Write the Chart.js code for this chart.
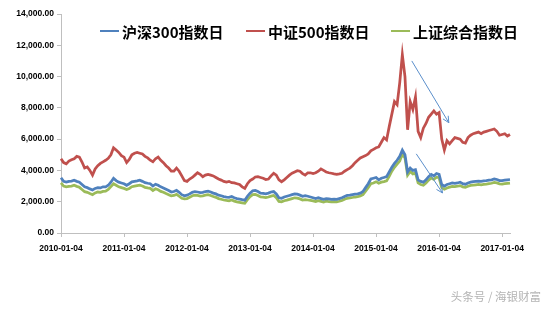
<!DOCTYPE html>
<html>
<head>
<meta charset="utf-8">
<script src="https://cdn.jsdelivr.net/npm/chart.js@4.4.1/dist/chart.umd.min.js"></script>
<style>
    body { margin: 0; background: #fff; }
    #wrap { position: relative; width: 550px; height: 310px; }
    #mark {
        position: absolute; right: 9px; top: 288px;
        font: 11.5px "Noto Sans CJK SC", sans-serif; color: #b4b4b4;
    }
</style>
</head>
<body>
<div id="wrap">
    <canvas id="chart" width="550" height="310"></canvas>
    <div id="mark">头条号 / 海银财富</div>
</div>
<script>
// series names as in the legend
const seriesNames = ['沪深300指数日', '中证500指数日', '上证综合指数日'];

// year labels shown on the x axis
const yearTicks = ['2010-01-04', '2011-01-04', '2012-01-04', '2013-01-04',
    '2014-01-04', '2015-01-04', '2016-01-04', '2017-01-04'];

const csi300 = [
    3530, 3300, 3250, 3300, 3320, 3370, 3300, 3250, 3100, 2950, 2900, 2820, 2750, 2850, 2900, 2880, 2950, 2950, 3050, 3250, 3500, 3350, 3250, 3200,
    3150, 3050, 3150, 3270, 3300, 3330, 3370, 3300, 3220, 3180, 3150, 3000, 3120, 3050, 2950, 2880, 2800, 2720, 2620, 2650, 2730, 2600, 2450, 2380,
    2420, 2500, 2600, 2650, 2620, 2580, 2600, 2650, 2680, 2620, 2550, 2500, 2420, 2380, 2330, 2300, 2280, 2330, 2250, 2200, 2170, 2130, 2100, 2350,
    2550, 2700, 2720, 2650, 2550, 2530, 2500, 2550, 2620, 2650, 2500, 2250, 2220, 2300, 2350, 2400, 2450, 2500, 2480, 2420, 2350, 2380, 2350, 2300,
    2250, 2200, 2250, 2200, 2150, 2200, 2180, 2150, 2170, 2150, 2200, 2250, 2330, 2400, 2420, 2450, 2480, 2500, 2550, 2650, 2900, 3150, 3450, 3500,
    3550, 3400, 3500, 3550, 3600, 3900, 4200, 4450, 4650, 4900, 5300, 5000, 3900, 4150, 4000, 4050, 3400, 3300, 3250, 3400, 3600, 3750, 3650, 3800,
    3750, 3100, 3000, 3100, 3150, 3200, 3180, 3200, 3250, 3150, 3120, 3200, 3250, 3280, 3300, 3320, 3300, 3330, 3350, 3380, 3400, 3450, 3420, 3350,
    3350, 3380, 3400, 3420
];
const csi500 = [
    4750, 4500, 4420, 4600, 4680, 4750, 4900, 4850, 4540, 4150, 4220, 4000, 3700, 4100, 4300, 4450, 4550, 4650, 4780, 5000, 5450, 5300, 5150, 4950,
    4850, 4500, 4700, 5000, 5100, 5150, 5100, 5050, 4900, 4800, 4650, 4550, 4750, 4850, 4650, 4500, 4300, 4150, 3950, 3950, 4150, 3950, 3650, 3350,
    3300, 3450, 3550, 3700, 3850, 3750, 3600, 3700, 3750, 3700, 3650, 3550, 3450, 3380, 3300, 3250, 3300, 3220, 3200, 3150, 3100, 2950, 2850, 3150,
    3350, 3450, 3580, 3600, 3550, 3500, 3420, 3450, 3650, 3820, 3700, 3400, 3280, 3400, 3550, 3700, 3820, 3900, 3980, 3950, 3800, 3700, 3850, 3850,
    3800, 3850, 3950, 4100, 4000, 3900, 3850, 3820, 3780, 3750, 3780, 3820, 3950, 4050, 4150, 4300, 4500, 4650, 4800, 4880, 4950, 5050, 5250, 5350,
    5450, 5500, 5800, 6100, 5950, 6800, 7600, 8400, 8200, 9600, 11400, 10000, 6600, 8400, 7900, 8700, 6500, 6100, 6700, 7000, 7400, 7600, 7800, 7600,
    7700, 6000, 5300, 5900, 5700, 5900, 6100, 6050, 6000, 5800, 5750, 6100, 6250, 6350, 6400, 6450, 6350, 6450, 6500, 6550, 6600, 6650, 6500, 6250,
    6300, 6350, 6200, 6300
];
const shComposite = [
    3200, 3000, 2950, 2980, 3000, 3050, 2980, 2920, 2780, 2640, 2600, 2520, 2450, 2560, 2620, 2600, 2660, 2680, 2780, 2960, 3150, 3050, 2950, 2900,
    2850, 2780, 2850, 2960, 3000, 3030, 3060, 3000, 2920, 2880, 2850, 2720, 2830, 2760, 2660, 2600, 2520, 2450, 2370, 2400, 2470, 2350, 2220, 2180,
    2200, 2280, 2380, 2420, 2400, 2360, 2380, 2420, 2450, 2400, 2330, 2280, 2200, 2160, 2110, 2080, 2060, 2110, 2040, 1990, 1960, 1930, 1900, 2130,
    2320, 2450, 2470, 2400, 2310, 2290, 2260, 2300, 2360, 2400, 2260, 2020, 1990, 2060, 2100, 2150, 2200, 2250, 2230, 2180, 2110, 2140, 2110, 2080,
    2050, 2010, 2060, 2020, 1980, 2030, 2010, 1990, 2000, 1990, 2030, 2080, 2160, 2220, 2240, 2270, 2300, 2320, 2370, 2450, 2680, 2900, 3150, 3200,
    3280, 3180, 3250, 3280, 3330, 3620, 3950, 4200, 4400, 4600, 5050, 4800, 3700, 3930, 3780, 3830, 3200, 3100, 3050, 3200, 3380, 3520, 3430, 3570,
    3530, 2900, 2800, 2880, 2930, 2980, 2970, 2990, 3030, 2950, 2920, 2990, 3040, 3060, 3080, 3100, 3080, 3110, 3130, 3160, 3180, 3230, 3200, 3140,
    3130, 3150, 3170, 3190
];

// arrows drawn on the chart, in data units (category index, value)
const arrows = [
    { from: [133.6, 11000], to: [147.7, 7050] },
    { from: [135.3, 5060], to: [145.3, 2560] }
];

// build the half-month date categories
const dates = [];
for (let y = 2010; y <= 2017; y++) {
    for (let m = 1; m <= 12; m++) {
        const mm = String(m).padStart(2, '0');
        dates.push(y + '-' + mm + '-04', y + '-' + mm + '-19');
    }
}
dates.length = csi300.length;

const colors = ['#4f81bd', '#c0504d', '#9bbb59'];
const axisGray = '#bfbfbf';

// legend drawn inside the plot, like the original
const legendPlugin = {
    id: 'insideLegend',
    afterDraw(chart) {
        const ctx = chart.ctx;
        const starts = [100, 246, 391];
        ctx.save();
        ctx.font = 'bold 15px "Noto Sans CJK SC", sans-serif';
        ctx.textBaseline = 'middle';
        chart.data.datasets.forEach((ds, i) => {
            const x = starts[i], y = 31;
            ctx.strokeStyle = ds.borderColor;
            ctx.lineWidth = 2;
            ctx.beginPath();
            ctx.moveTo(x, y);
            ctx.lineTo(x + 19, y);
            ctx.stroke();
            ctx.fillStyle = '#000';
            ctx.fillText(ds.label, x + 22, y + 1);
        });
        ctx.restore();
    }
};

const arrowPlugin = {
    id: 'arrows',
    afterDatasetsDraw(chart) {
        const ctx = chart.ctx;
        const xs = chart.scales.x, ys = chart.scales.y;
        ctx.save();
        ctx.strokeStyle = '#5b8fcb';
        ctx.lineWidth = 1;
        arrows.forEach(a => {
            const x1 = xs.getPixelForValue(a.from[0]), y1 = ys.getPixelForValue(a.from[1]);
            const x2 = xs.getPixelForValue(a.to[0]), y2 = ys.getPixelForValue(a.to[1]);
            const ang = Math.atan2(y2 - y1, x2 - x1);
            ctx.beginPath();
            ctx.moveTo(x1, y1);
            ctx.lineTo(x2, y2);
            ctx.moveTo(x2 - 7 * Math.cos(ang - 0.45), y2 - 7 * Math.sin(ang - 0.45));
            ctx.lineTo(x2, y2);
            ctx.lineTo(x2 - 7 * Math.cos(ang + 0.45), y2 - 7 * Math.sin(ang + 0.45));
            ctx.stroke();
        });
        ctx.restore();
    }
};

const tickFont = { family: '"Liberation Sans", Arial, sans-serif', size: 8.5, weight: 'bold' };

new Chart(document.getElementById('chart').getContext('2d'), {
    type: 'line',
    data: {
        labels: dates,
        datasets: [csi300, csi500, shComposite].map((vals, i) => ({
            label: seriesNames[i],
            data: vals,
            borderColor: colors[i],
            borderWidth: 2.75,
            pointRadius: 0,
            tension: 0,
            fill: false
        }))
    },
    options: {
        responsive: false,
        animation: false,
        layout: { padding: { top: 14, right: 40, left: 0, bottom: 0 } },
        plugins: {
            legend: { display: false },
            tooltip: { enabled: false }
        },
        scales: {
            x: {
                grid: {
                    drawOnChartArea: false,
                    tickLength: 4,
                    tickColor: c => yearTicks.includes(dates[c.index]) ? axisGray : 'rgba(0,0,0,0)'
                },
                border: { color: axisGray },
                ticks: {
                    autoSkip: false,
                    maxRotation: 0,
                    padding: 7,
                    color: '#000',
                    font: tickFont,
                    callback: function(value, index) {
                        return yearTicks.includes(dates[index]) ? dates[index] : '';
                    }
                },
                afterFit: function(scale) { scale.height = 77; }
            },
            y: {
                min: 0,
                max: 14000,
                grid: { drawOnChartArea: false, tickLength: 4, tickColor: axisGray },
                border: { color: axisGray },
                ticks: {
                    stepSize: 2000,
                    padding: 3,
                    color: '#000',
                    font: tickFont,
                    callback: function(value) {
                        return value.toLocaleString('en-US', { minimumFractionDigits: 2, maximumFractionDigits: 2 });
                    }
                },
                afterFit: function(scale) { scale.width = 61; }
            }
        }
    },
    plugins: [arrowPlugin, legendPlugin]
});
</script>
</body>
</html>
